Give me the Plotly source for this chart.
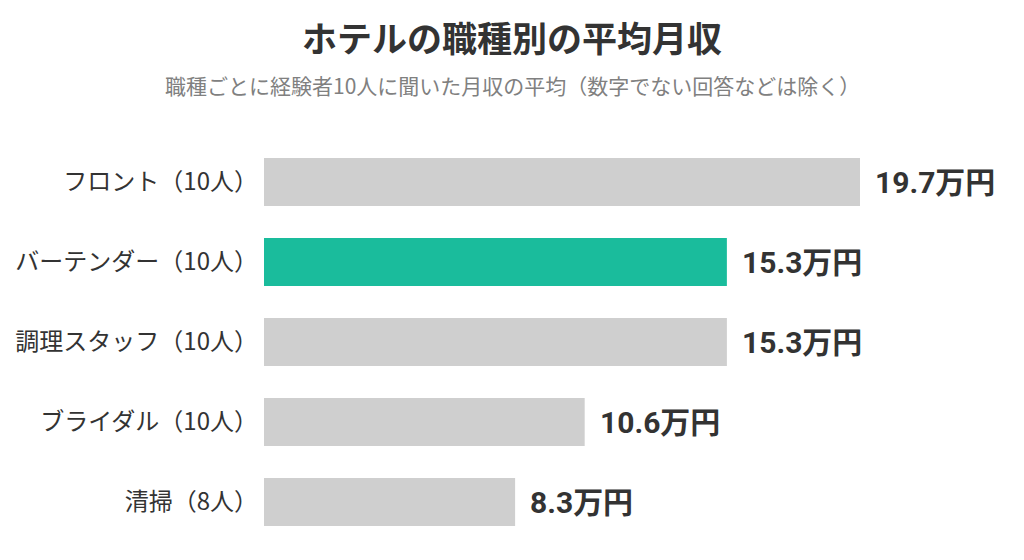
import plotly.graph_objs as go

# Data
categories = [
    "フロント（10人）",
    "バーテンダー（10人）",
    "調理スタッフ（10人）",
    "ブライダル（10人）",
    "清掃（8人）",
]
salary = [19.7, 15.3, 15.3, 10.6, 8.3]  # 万円
highlight = "バーテンダー（10人）"

title_text = "ホテルの職種別の平均月収"
subtitle_text = "職種ごとに経験者10人に聞いた月収の平均（数字でない回答などは除く）"

jp_font = "'Noto Sans CJK JP', 'Noto Sans', sans-serif"
num_font = "Roboto, 'Noto Sans CJK JP', sans-serif"

# The page body has an 8px margin, so the figure is a bit smaller and shifted
PAGE_OFFSET = 8
WIDTH, HEIGHT = 1024 - PAGE_OFFSET, 560 - PAGE_OFFSET
PLOT_LEFT, PLOT_TOP, PLOT_H = 264, 142, 400  # page pixels
PLOT_W = 1024 - PLOT_LEFT

# Bar colors: highlighted job in teal, the rest grey
bar_colors = ["#1abc9c" if c == highlight else "#cfcfcf" for c in categories]

fig = go.Figure()
fig.add_trace(
    go.Bar(
        x=salary,
        y=categories,
        orientation="h",
        width=0.6,
        marker={"color": bar_colors, "line": {"width": 0}},
        hoverinfo="skip",
    )
)

# Value labels to the right of each bar
for cat, val in zip(categories, salary):
    fig.add_annotation(
        x=val,
        y=cat,
        text=f"<b>{val:.1f}万円</b>",
        showarrow=False,
        xanchor="left",
        yanchor="middle",
        xshift=13,
        font={"family": num_font, "size": 30, "color": "#333333"},
    )

# Subtitle, centred on the page
fig.add_annotation(
    x=(512 - PLOT_LEFT) / PLOT_W,
    xref="paper",
    xanchor="center",
    y=(PLOT_TOP + PLOT_H - 85) / PLOT_H,
    yref="paper",
    yanchor="middle",
    text=subtitle_text,
    showarrow=False,
    font={"family": jp_font, "size": 21, "color": "#808080"},
)

fig.update_layout(
    width=WIDTH,
    height=HEIGHT,
    margin={
        "l": PLOT_LEFT - PAGE_OFFSET,
        "r": 0,
        "t": PLOT_TOP - PAGE_OFFSET,
        "b": HEIGHT - (PLOT_TOP - PAGE_OFFSET) - PLOT_H,
    },
    paper_bgcolor="white",
    plot_bgcolor="white",
    showlegend=False,
    title={
        "text": f"<b>{title_text}</b>",
        "x": (512 - PAGE_OFFSET) / WIDTH,
        "xanchor": "center",
        "y": 1 - (40 - PAGE_OFFSET) / HEIGHT,
        "yref": "container",
        "yanchor": "middle",
        "font": {"family": jp_font, "size": 35, "color": "#333333"},
    },
    xaxis={
        "range": [0, 19.7 * PLOT_W / 596],
        "visible": False,
        "fixedrange": True,
    },
    yaxis={
        "autorange": "reversed",
        "showgrid": False,
        "zeroline": False,
        "showline": False,
        "ticks": "",
        "ticklabelstandoff": 5,
        "tickfont": {"family": jp_font, "size": 24, "color": "#333333"},
        "fixedrange": True,
    },
)

fig.write_html("out.html")
